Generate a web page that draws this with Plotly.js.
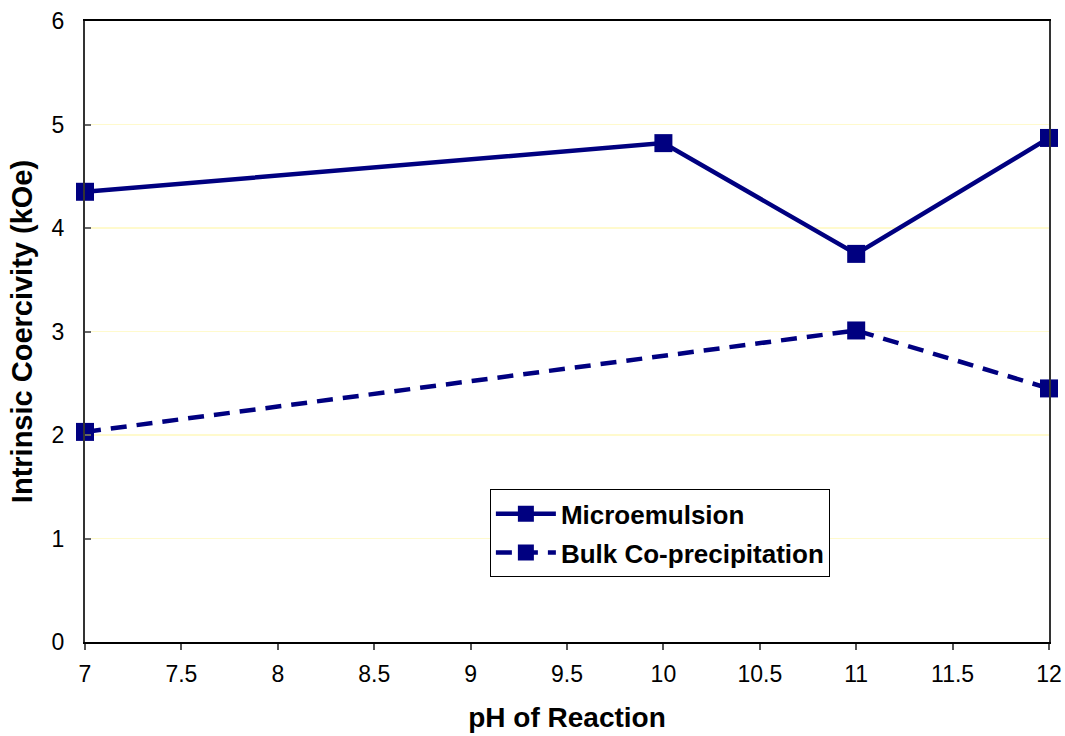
<!DOCTYPE html>
<html>
<head>
<meta charset="utf-8">
<script src="https://cdn.plot.ly/plotly-3.0.1.min.js"></script>
<style>
  html, body { margin: 0; padding: 0; background: #ffffff; }
  #chart { width: 1065px; height: 736px; }
</style>
</head>
<body>
<div id="chart"></div>
<script>
// Intrinsic coercivity versus reaction pH for two synthesis routes
const microPH = [7, 10, 11, 12];
const microHc = [4.35, 4.82, 3.75, 4.87];
const bulkPH = [7, 11, 12];
const bulkHc = [2.03, 3.01, 2.45];
const xTicks = [7, 7.5, 8, 8.5, 9, 9.5, 10, 10.5, 11, 11.5, 12];
const yTicks = [0, 1, 2, 3, 4, 5, 6];

const navy = '#000080';
const font = 'Liberation Sans, Arial, sans-serif';

const traces = [
  {
    x: microPH, y: microHc, name: 'Microemulsion', legendgroup: 'micro',
    mode: 'lines+markers', type: 'scatter', cliponaxis: false,
    line: { color: navy, width: 4.5 },
    marker: { symbol: 'square', size: 18, color: navy }
  },
  {
    x: bulkPH, y: bulkHc, name: 'Bulk Co-precipitation', legendgroup: 'bulk',
    mode: 'lines+markers', type: 'scatter', cliponaxis: false,
    line: { color: navy, width: 4.5, dash: '16px,10px' },
    marker: { symbol: 'square', size: 18, color: navy }
  }
];

const layout = {
  width: 1065, height: 736,
  margin: { l: 85, r: 16, t: 21, b: 94 },
  paper_bgcolor: '#ffffff', plot_bgcolor: '#ffffff',
  font: { family: font, color: '#000000', size: 23 },
  showlegend: true,
  legend: {
    x: 0.42, y: 0.246, xref: 'paper', yref: 'paper',
    xanchor: 'left', yanchor: 'top',
    bgcolor: '#ffffff', bordercolor: '#000000', borderwidth: 1,
    font: { family: font, size: 26, color: '#000000', weight: 'bold' },
    itemwidth: 60, tracegroupgap: 2
  },
  xaxis: {
    range: [7, 12], tickvals: xTicks, ticktext: xTicks.map(String),
    showline: true, linecolor: '#000000', linewidth: 2, mirror: true,
    ticks: 'outside', ticklen: 6, tickcolor: '#555555', tickwidth: 2,
    showgrid: false, zeroline: false,
    tickfont: { family: font, size: 23, color: '#000000' },
    ticklabelstandoff: 4,
    title: { text: 'pH of Reaction', font: { family: font, size: 28, weight: 'bold' }, standoff: 22 }
  },
  yaxis: {
    range: [0, 6], tickvals: yTicks, ticktext: yTicks.map(String),
    showline: true, linecolor: '#333333', linewidth: 2, mirror: true,
    ticks: 'inside', ticklen: 6, tickcolor: '#666666', tickwidth: 2,
    showgrid: true, gridcolor: '#fffacd', gridwidth: 1.5, zeroline: false,
    tickfont: { family: font, size: 23, color: '#000000' },
    ticklabelstandoff: 14,
    title: { text: 'Intrinsic Coercivity (kOe)', font: { family: font, size: 29, weight: 'bold' }, standoff: 10 }
  }
};

Plotly.newPlot('chart', traces, layout, { displayModeBar: false, staticPlot: true });
</script>
</body>
</html>
